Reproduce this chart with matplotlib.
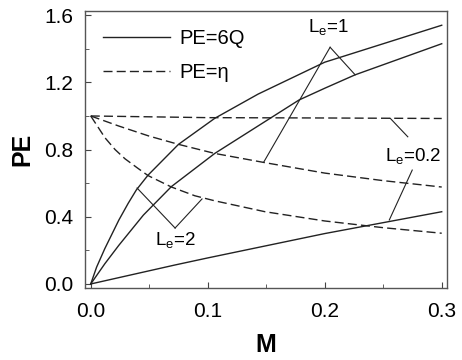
import numpy as np
import matplotlib
matplotlib.use('Agg')
import matplotlib.pyplot as plt
from matplotlib.lines import Line2D
from matplotlib.ticker import MultipleLocator

plt.rcParams['font.family'] = ['Liberation Sans', 'DejaVu Sans']
plt.rcParams['mathtext.fontset'] = 'custom'
plt.rcParams['mathtext.rm'] = 'Liberation Sans'
plt.rcParams['mathtext.it'] = 'Liberation Sans'

# PE = 6Q (solid)
m_q_le2 = [0.0, 0.005, 0.012, 0.024, 0.032, 0.039, 0.049, 0.075, 0.106, 0.143, 0.2, 0.25, 0.3]
q_le2 = [0.0, 0.10, 0.21, 0.38, 0.48, 0.56, 0.648, 0.831, 0.986, 1.13, 1.32, 1.43, 1.54]
m_q_le1 = [0.0, 0.012, 0.024, 0.045, 0.069, 0.106, 0.178, 0.2, 0.226, 0.3]
q_le1 = [0.0, 0.12, 0.23, 0.41, 0.58, 0.777, 1.095, 1.165, 1.245, 1.43]
m_q_le02 = [0.0, 0.072, 0.1, 0.2, 0.3]
q_le02 = [0.0, 0.113, 0.155, 0.30, 0.43]

# PE = eta (dashed)
m_eta_le02 = [0.0, 0.1, 0.2, 0.3]
eta_le02 = [1.0, 0.99, 0.988, 0.985]
m_eta_le1 = [0.0, 0.024, 0.05, 0.075, 0.106, 0.149, 0.2, 0.25, 0.3]
eta_le1 = [1.0, 0.94, 0.88, 0.831, 0.777, 0.722, 0.66, 0.615, 0.577]
m_eta_le2 = [0.0, 0.0122, 0.0208, 0.0293, 0.04, 0.049, 0.069, 0.089, 0.106, 0.149, 0.2, 0.25, 0.3]
eta_le2 = [1.0, 0.87, 0.80, 0.745, 0.69, 0.645, 0.577, 0.525, 0.495, 0.43, 0.375, 0.335, 0.302]

# annotation labels: (text, text position, leader lines [(from), (to)])
labels = [
    (r'L$_{\rm e}$=1', (0.203, 1.47), [((0.2046, 1.409), (0.226, 1.245)),
                                       ((0.2046, 1.409), (0.148, 0.727))]),
    (r'L$_{\rm e}$=0.2', (0.276, 0.70), [((0.256, 0.986), (0.271, 0.876)),
                                         ((0.2748, 0.678), (0.2552, 0.381))]),
    (r'L$_{\rm e}$=2', (0.072, 0.20), [((0.0721, 0.333), (0.0396, 0.571)),
                                       ((0.0721, 0.333), (0.0951, 0.506))]),
]

lc = '#222222'
dash = (0, (6.5, 3))

fig = plt.figure(figsize=(4.62, 3.6), dpi=100)
ax = fig.add_axes([0.184, 0.2, 0.7835, 0.77])

for mx, my in [(m_q_le2, q_le2), (m_q_le1, q_le1), (m_q_le02, q_le02)]:
    ax.plot(mx, my, color=lc, lw=1.0)
for mx, my in [(m_eta_le02, eta_le02), (m_eta_le1, eta_le1), (m_eta_le2, eta_le2)]:
    ax.plot(mx, my, color=lc, lw=1.0, linestyle=dash)

for txt, (tx, ty), leaders in labels:
    ax.text(tx, ty, txt, fontsize=13.5, ha='center', va='bottom', color='black')
    for (x0, y0), (x1, y1) in leaders:
        ax.plot([x0, x1], [y0, y1], color=lc, lw=0.8)

handles = [Line2D([0], [0], color=lc, lw=1.0, label='PE=6Q'),
           Line2D([0], [0], color=lc, lw=1.0, linestyle=dash, label=r'PE=η')]
ax.legend(handles=handles, loc='upper left', frameon=False, fontsize=14.5,
          handlelength=3.3, handletextpad=0.5, labelspacing=0.75,
          borderaxespad=0.5, bbox_to_anchor=(0.0, 1.0))

ax.set_xlim(-0.0049, 0.3045)
ax.set_ylim(-0.024, 1.626)
ax.xaxis.set_major_locator(MultipleLocator(0.1))
ax.xaxis.set_minor_locator(MultipleLocator(0.05))
ax.yaxis.set_major_locator(MultipleLocator(0.4))
ax.yaxis.set_minor_locator(MultipleLocator(0.2))
ax.xaxis.set_major_formatter(plt.FormatStrFormatter('%.1f'))
ax.yaxis.set_major_formatter(plt.FormatStrFormatter('%.1f'))
ax.tick_params(which='both', direction='in', labelsize=15, colors='#444444',
               labelcolor='black')
ax.tick_params(which='major', length=4)
ax.tick_params(which='minor', length=3)
ax.tick_params(axis='x', which='major', pad=10)
ax.tick_params(axis='y', which='major', pad=8.5)
for s in ax.spines.values():
    s.set_color('#555555')
    s.set_linewidth(1.0)

ax.set_xlabel('M', fontsize=18, fontweight='bold', labelpad=9)
ax.set_ylabel('PE', fontsize=18, fontweight='bold', labelpad=7)

plt.savefig('out.png', dpi=100, facecolor='white')
